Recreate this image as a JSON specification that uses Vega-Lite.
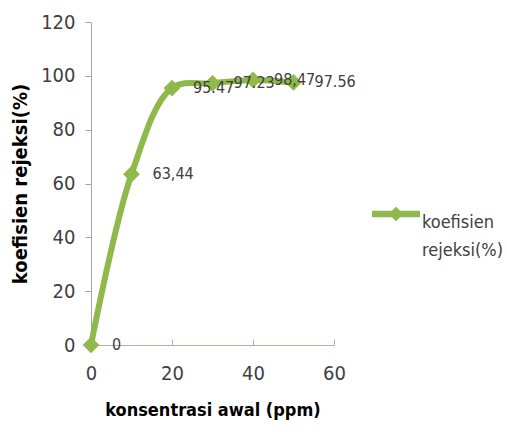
{
  "$schema": "https://vega.github.io/schema/vega-lite/v6.json",
  "width": 243,
  "height": 323,
  "autosize": "none",
  "padding": {"left": 91, "top": 22, "right": 173, "bottom": 87},
  "background": "white",
  "config": {
    "view": {"stroke": null},
    "font": "DejaVu Sans Condensed",
    "style": {"guide-label": {"lineHeight": 28}}
  },
  "data": {
    "values": [
      {"x": 0, "y": 0, "label": "0", "series": "koefisien rejeksi(%)"},
      {"x": 10, "y": 63.44, "label": "63,44", "series": "koefisien rejeksi(%)"},
      {"x": 20, "y": 95.47, "label": "95.47", "series": "koefisien rejeksi(%)"},
      {"x": 30, "y": 97.23, "label": "97.23", "series": "koefisien rejeksi(%)"},
      {"x": 40, "y": 98.47, "label": "98,47", "series": "koefisien rejeksi(%)"},
      {"x": 50, "y": 97.56, "label": "97.56", "series": "koefisien rejeksi(%)"}
    ]
  },
  "encoding": {
    "x": {
      "field": "x", "type": "quantitative",
      "scale": {"domain": [0, 60], "nice": false, "zero": true},
      "axis": {
        "values": [0, 20, 40, 60],
        "title": "konsentrasi awal (ppm)",
        "titleFont": "DejaVu Sans Condensed",
        "titleFontSize": 18,
        "titleFontWeight": "bold",
        "titleColor": "#000000",
        "titlePadding": 18,
        "labelFontSize": 20,
        "labelColor": "#404040",
        "labelPadding": 24,
        "grid": false,
        "domainColor": "#c4a8a8",
        "tickColor": "#c4a8a8",
        "tickSize": -6,
        "labelFlush": false
      }
    },
    "y": {
      "field": "y", "type": "quantitative",
      "scale": {"domain": [0, 120], "nice": false},
      "axis": {
        "values": [0, 20, 40, 60, 80, 100, 120],
        "title": "koefisien rejeksi(%)",
        "titleFont": "DejaVu Sans Condensed",
        "titleFontSize": 20,
        "titleFontWeight": "bold",
        "titleColor": "#000000",
        "titlePadding": 10,
        "labelFontSize": 20,
        "labelColor": "#404040",
        "labelPadding": 10,
        "grid": false,
        "domainColor": "#a6a6a6",
        "tickColor": "#a6a6a6",
        "tickSize": 6
      }
    }
  },
  "layer": [
    {
      "mark": {"type": "line", "interpolate": "catmull-rom", "strokeWidth": 6, "clip": false, "color": "#8fb94a"},
      "encoding": {}
    },
    {
      "mark": {"type": "point", "shape": "diamond", "filled": true, "size": 280, "opacity": 1, "clip": false, "color": "#8fb94a"},
      "encoding": {
        "color": {
          "field": "series", "type": "nominal",
          "scale": {"range": ["#8fb94a"]},
          "legend": {
            "orient": "none",
            "legendX": 281,
            "legendY": 168,
            "title": null,
            "symbolType": "M-1,-0.14L-0.17,-0.14L0,-0.3L0.17,-0.14L1,-0.14L1,0.14L0.17,0.14L0,0.3L-0.17,0.14L-1,0.14Z",
            "symbolSize": 2304,
            "symbolFillColor": "#8fb94a",
            "symbolStrokeWidth": 0,
            "labelExpr": "['koefisien', 'rejeksi(%)']",
            "labelFontSize": 18,
            "labelColor": "#404040",
            "labelOffset": 2,
            "labelBaseline": "top",
            "labelLimit": 200,
            "encode": {"labels": {"update": {"dy": {"value": -16}}}}
          }
        }
      }
    },
    {
      "mark": {"type": "text", "align": "left", "baseline": "middle", "dx": 21, "fontSize": 16, "color": "#404040", "clip": false},
      "encoding": {"text": {"field": "label"}}
    }
  ]
}
